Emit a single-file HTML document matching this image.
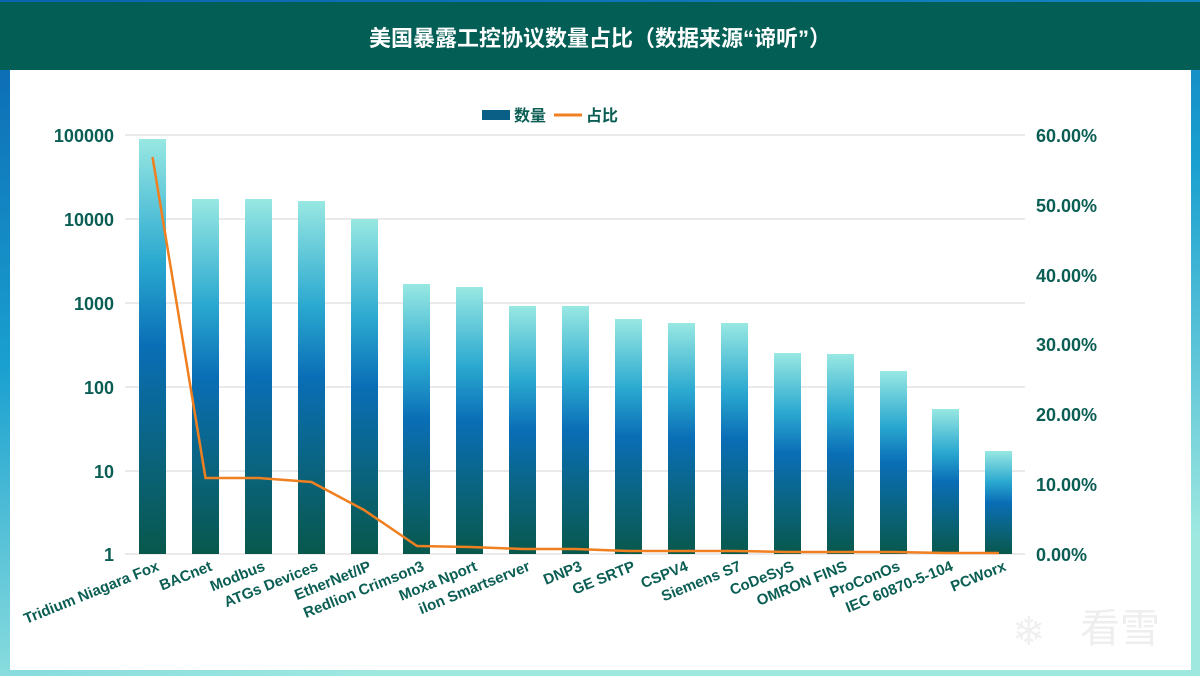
<!DOCTYPE html>
<html><head><meta charset="utf-8"><style>
html,body{margin:0;padding:0;width:1200px;height:682px;overflow:hidden;background:#fff}
</style></head><body>
<svg width="1200" height="682" xmlns="http://www.w3.org/2000/svg" font-family="'Liberation Sans','Noto Sans CJK SC',sans-serif">
<defs>
<linearGradient id="frame" x1="0" y1="0" x2="0.3" y2="1">
<stop offset="0" stop-color="#0a63b0"/><stop offset="0.5" stop-color="#1aa0d0"/><stop offset="1" stop-color="#9ee8e0"/>
</linearGradient>
<linearGradient id="bar" x1="0" y1="0" x2="0" y2="1">
<stop offset="0" stop-color="#98e8e2"/><stop offset="0.3" stop-color="#2aa8d0"/><stop offset="0.5" stop-color="#0a6eb6"/><stop offset="0.75" stop-color="#0a6480"/><stop offset="1" stop-color="#08584c"/>
</linearGradient>
</defs>
<rect x="0" y="0" width="1200" height="676" fill="url(#frame)"/>
<rect x="10" y="70" width="1181" height="600" fill="#fff"/>
<rect x="0" y="2" width="1200" height="68" fill="#035e55"/>
<text x="600" y="46" text-anchor="middle" font-size="22" font-weight="bold" fill="#fff">美国暴露工控协议数量占比（数据来源“谛听”）</text>
<rect x="482" y="110" width="28" height="10" fill="#0a5f86"/>
<text x="514" y="121" font-size="16" font-weight="bold" fill="#0b5e54">数量</text>
<line x1="554" y1="115" x2="582" y2="115" stroke="#f07f20" stroke-width="3"/>
<text x="586" y="121" font-size="16" font-weight="bold" fill="#0b5e54">占比</text>
<g stroke="#e4e4e4" stroke-width="1.5">
<line x1="125" y1="135" x2="1025" y2="135"/><line x1="125" y1="219" x2="1025" y2="219"/>
<line x1="125" y1="303" x2="1025" y2="303"/><line x1="125" y1="387" x2="1025" y2="387"/>
<line x1="125" y1="471" x2="1025" y2="471"/><line x1="125" y1="554" x2="1025" y2="554"/>
</g>
<g font-size="18" font-weight="bold" fill="#0b5e54" text-anchor="end">
<text x="114" y="142">100000</text><text x="114" y="226">10000</text><text x="114" y="310">1000</text>
<text x="114" y="394">100</text><text x="114" y="478">10</text><text x="114" y="561">1</text>
</g>
<g font-size="18" font-weight="bold" fill="#0b5e54">
<text x="1036" y="142">60.00%</text><text x="1036" y="212">50.00%</text><text x="1036" y="282">40.00%</text>
<text x="1036" y="351">30.00%</text><text x="1036" y="421">20.00%</text><text x="1036" y="491">10.00%</text>
<text x="1036" y="561">0.00%</text>
</g>
<g fill="url(#bar)">
<rect x="139" y="139" width="27" height="415"/>
<rect x="192" y="199" width="27" height="355"/>
<rect x="245" y="199" width="27" height="355"/>
<rect x="298" y="201" width="27" height="353"/>
<rect x="351" y="219" width="27" height="335"/>
<rect x="403" y="284" width="27" height="270"/>
<rect x="456" y="287" width="27" height="267"/>
<rect x="509" y="306" width="27" height="248"/>
<rect x="562" y="306" width="27" height="248"/>
<rect x="615" y="319" width="27" height="235"/>
<rect x="668" y="323" width="27" height="231"/>
<rect x="721" y="323" width="27" height="231"/>
<rect x="774" y="353" width="27" height="201"/>
<rect x="827" y="354" width="27" height="200"/>
<rect x="880" y="371" width="27" height="183"/>
<rect x="932" y="409" width="27" height="145"/>
<rect x="985" y="451" width="27" height="103"/>
</g>
<polyline fill="none" stroke="#f07f20" stroke-width="2.5" points="152.5,157 205.5,478 258.5,478 311.5,482 364,510 417,546 470,547 523,549 575,549 628,551 681,551 734,551 787,552 840,552 893,552 946,553 999,553"/>
<g font-size="15" font-weight="bold" fill="#0b5e54" text-anchor="end">
<text transform="translate(160,570) rotate(-22)">Tridium Niagara Fox</text>
<text transform="translate(213,570) rotate(-22)">BACnet</text>
<text transform="translate(266,570) rotate(-22)">Modbus</text>
<text transform="translate(319,570) rotate(-22)">ATGs Devices</text>
<text transform="translate(372,570) rotate(-22)">EtherNet/IP</text>
<text transform="translate(425,570) rotate(-22)">Redlion Crimson3</text>
<text transform="translate(478,570) rotate(-22)">Moxa Nport</text>
<text transform="translate(531,570) rotate(-22)">ilon Smartserver</text>
<text transform="translate(583,570) rotate(-22)">DNP3</text>
<text transform="translate(636,570) rotate(-22)">GE SRTP</text>
<text transform="translate(689,570) rotate(-22)">CSPV4</text>
<text transform="translate(742,570) rotate(-22)">Siemens S7</text>
<text transform="translate(795,570) rotate(-22)">CoDeSyS</text>
<text transform="translate(848,570) rotate(-22)">OMRON FINS</text>
<text transform="translate(901,570) rotate(-22)">ProConOs</text>
<text transform="translate(954,570) rotate(-22)">IEC 60870-5-104</text>
<text transform="translate(1007,570) rotate(-22)">PCWorx</text>
</g>
<text x="1012" y="645" font-size="40" fill="#f0f0f0">❄</text>
<text x="1080" y="642" font-size="40" fill="#eeeeee">看雪</text>
</svg>
</body></html>
